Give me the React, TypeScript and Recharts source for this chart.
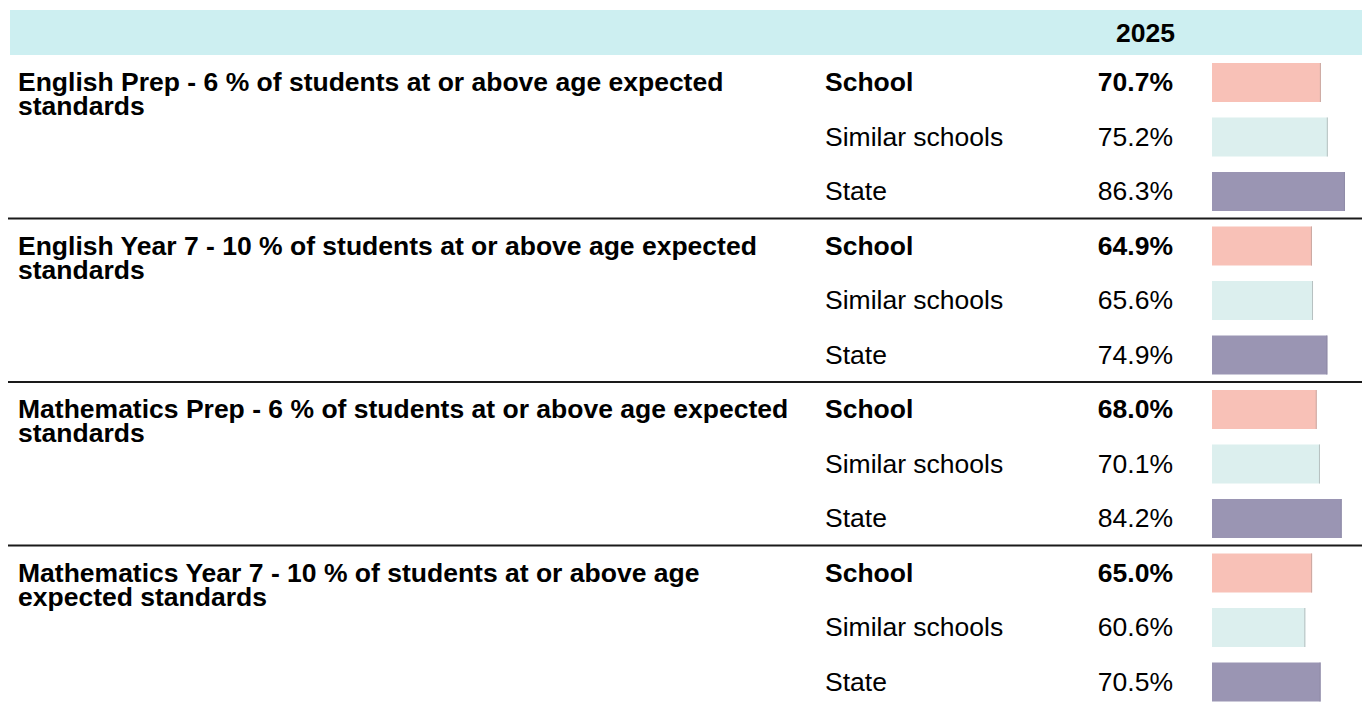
import { BarChart, Bar, XAxis, YAxis } from 'recharts';

const YEAR = '2025';

const GROUP_TITLES = [
  ['English Prep - 6 % of students at or above age expected', 'standards'],
  ['English Year 7 - 10 % of students at or above age expected', 'standards'],
  ['Mathematics Prep - 6 % of students at or above age expected', 'standards'],
  ['Mathematics Year 7 - 10 % of students at or above age', 'expected standards'],
];

const COMPARISONS = ['School', 'Similar schools', 'State'];

const schoolValues = [70.7, 64.9, 68.0, 65.0];
const similarValues = [75.2, 65.6, 70.1, 60.6];
const stateValues = [86.3, 74.9, 84.2, 70.5];

const FILLS = ['#F8C1B7', '#DCEFEE', '#9A95B3'];
const EDGES = ['#C9A8A2', '#B6C0C0', '#8E8AA6'];

const FONT = '"Liberation Sans", Arial, Helvetica, sans-serif';
const FS = 26.5;

type Row = {
  key: string;
  group: number;
  comp: number;
  value: number;
};

const rows: Row[] = [];
GROUP_TITLES.forEach((_, g) => {
  const vals = [schoolValues[g], similarValues[g], stateValues[g]];
  COMPARISONS.forEach((c, ci) => {
    rows.push({ key: `${g}-${c}`, group: g, comp: ci, value: vals[ci] });
  });
});

function RowTick(props: any) {
  const { y, payload } = props;
  const row = rows.find((r) => r.key === payload.value);
  if (!row) return null;
  const half = payload.offset || 27.25;
  const bold = row.comp === 0;
  const base = y + 9.2;
  return (
    <g>
      {row.comp === 0 && row.group > 0 && (
        <line x1={8} x2={1362} y1={y - half} y2={y - half} stroke="#1a1a1a" strokeWidth={1.8} />
      )}
      {row.comp === 0 &&
        GROUP_TITLES[row.group].map((t, i) => (
          <text key={i} x={18} y={base + i * 24} fontFamily={FONT} fontSize={FS} fontWeight={700} fill="#000">
            {t}
          </text>
        ))}
      <text x={825} y={base} fontFamily={FONT} fontSize={FS} fontWeight={bold ? 700 : 400} fill="#000">
        {COMPARISONS[row.comp]}
      </text>
      <text
        x={1173}
        y={base}
        textAnchor="end"
        fontFamily={FONT}
        fontSize={FS}
        fontWeight={bold ? 700 : 400}
        fill="#000"
      >
        {row.value.toFixed(1)}%
      </text>
    </g>
  );
}

function EdgedBar(props: any) {
  const { x, y, width, height, payload } = props;
  const ci = payload ? payload.comp : 0;
  return (
    <g>
      <rect x={x} y={y} width={width} height={height} fill={FILLS[ci]} />
      <line x1={x + width - 0.5} x2={x + width - 0.5} y1={y} y2={y + height} stroke={EDGES[ci]} strokeWidth={1} />
    </g>
  );
}

export default function App() {
  return (
    <div style={{ position: 'fixed', left: 0, top: 0, width: 1362, height: 704, overflow: 'hidden', background: '#fff' }}>
      <svg width={1362} height={60} style={{ position: 'absolute', left: 0, top: 0 }}>
        <rect x={10} y={10} width={1352} height={45} fill="#CDEFF1" />
        <text x={1175} y={42} textAnchor="end" fontFamily={FONT} fontSize={FS} fontWeight={700} fill="#000">
          {YEAR}
        </text>
      </svg>
      <div style={{ position: 'absolute', left: 0, top: 0 }}>
        <BarChart
          width={1366}
          height={712}
          data={rows}
          layout="vertical"
          margin={{ top: 55, right: 0, bottom: 3, left: 0 }}
          barSize={39}
        >
          <XAxis type="number" domain={[0, 100]} hide />
          <YAxis
            type="category"
            dataKey="key"
            width={1212}
            interval={0}
            axisLine={false}
            tickLine={false}
            tick={<RowTick />}
          />
          <Bar dataKey="value" isAnimationActive={false} shape={<EdgedBar />} />
        </BarChart>
      </div>
    </div>
  );
}
